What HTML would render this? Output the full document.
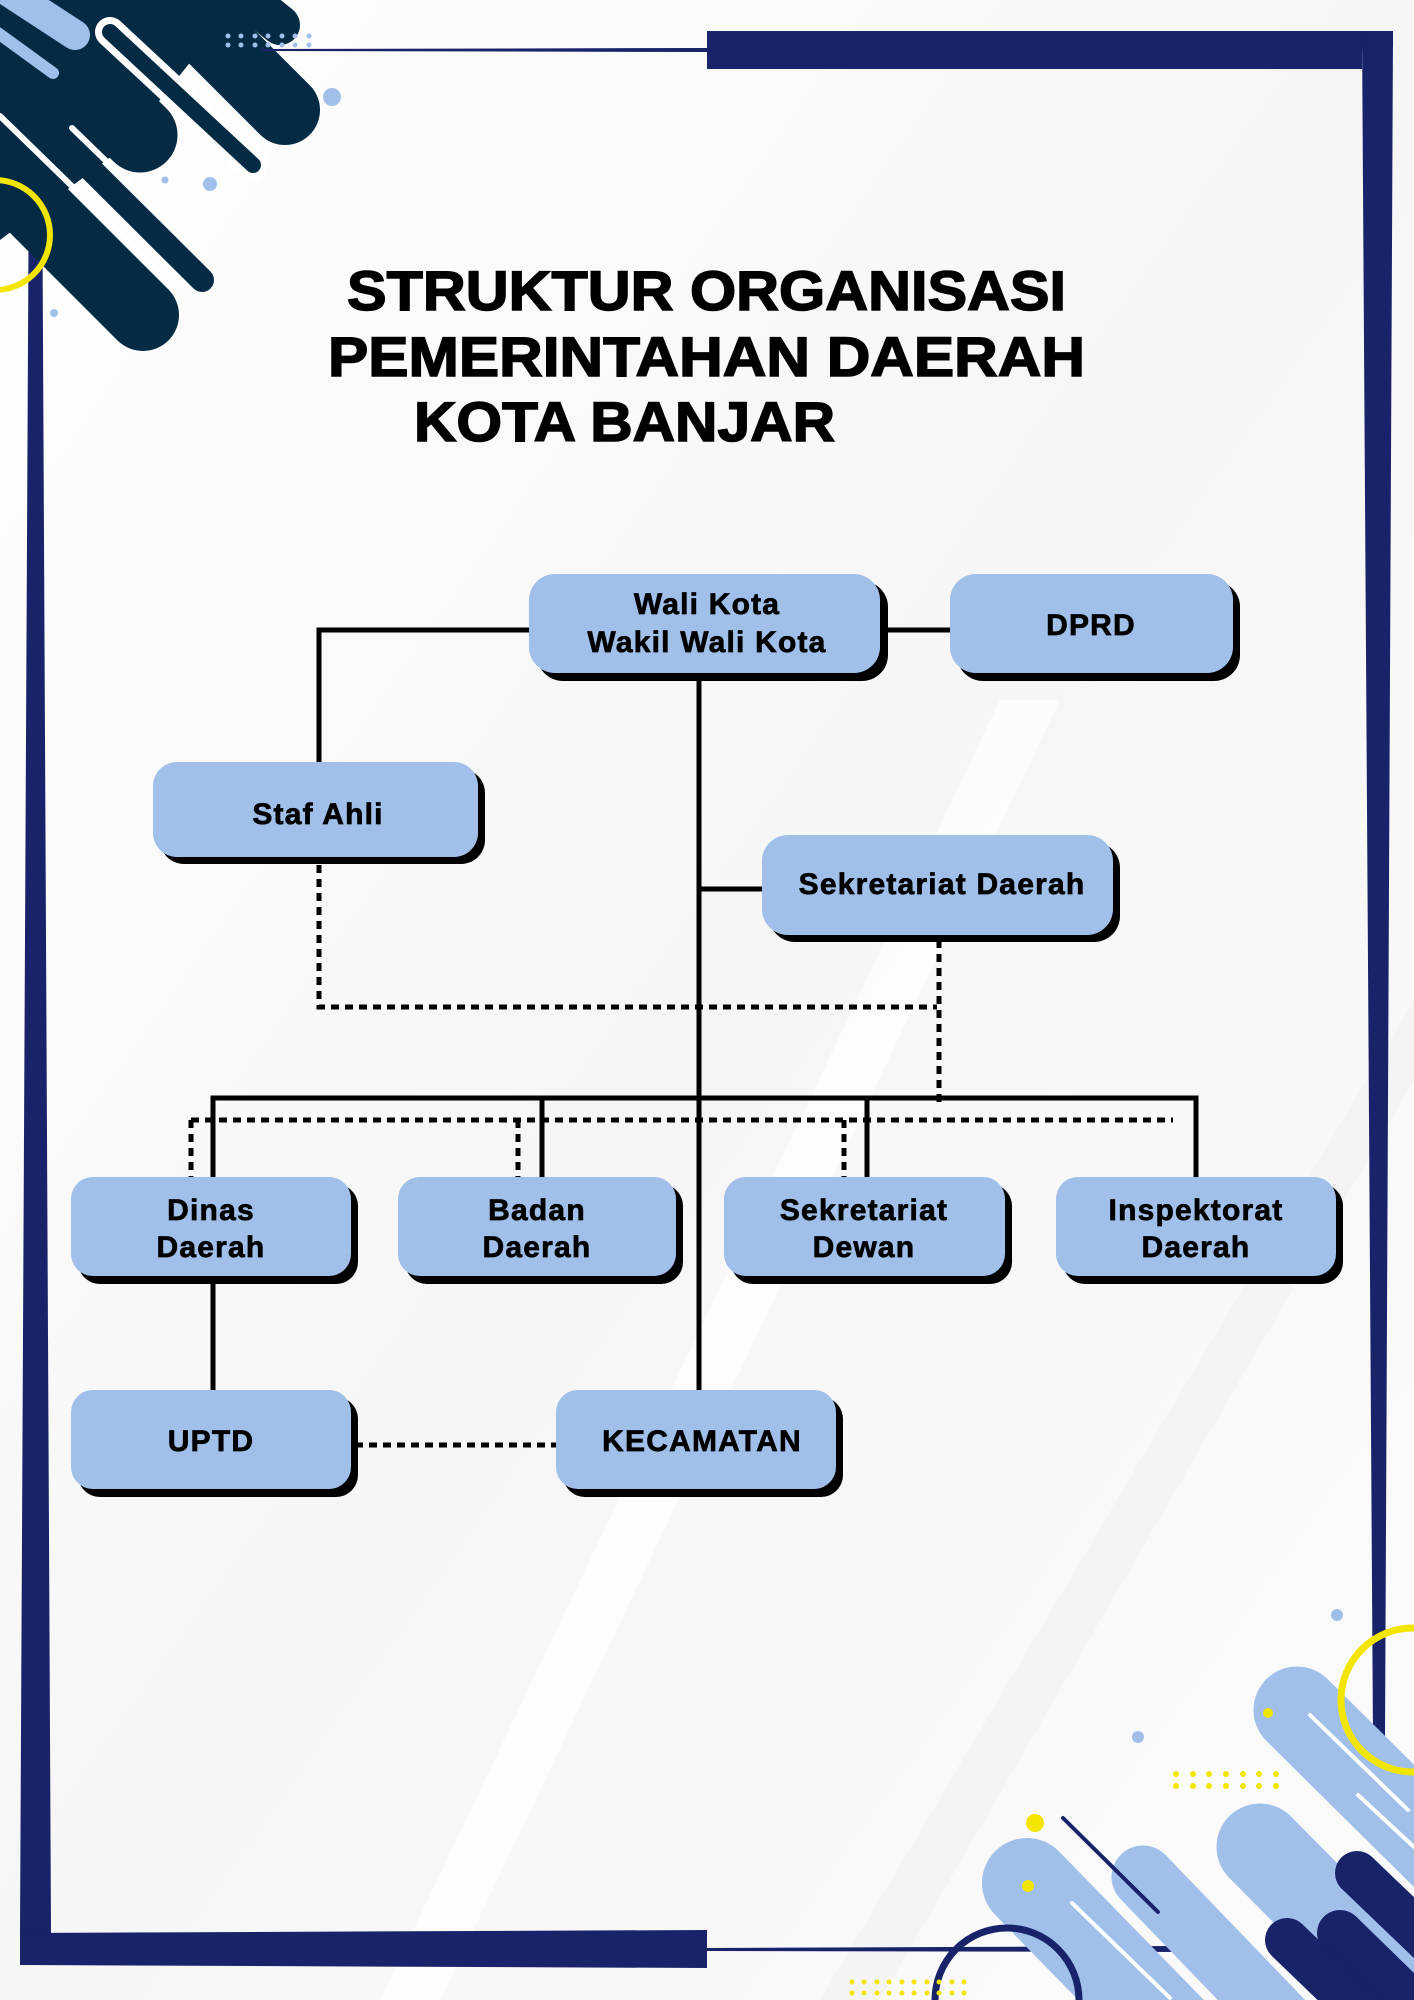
<!DOCTYPE html>
<html><head><meta charset="utf-8"><style>
html,body{margin:0;padding:0;width:1414px;height:2000px;overflow:hidden;background:#fafafa}
svg{display:block}
text{font-family:"Liberation Sans",sans-serif;font-weight:bold;fill:#000}
</style></head><body>
<svg width="1414" height="2000" viewBox="0 0 1414 2000" xmlns="http://www.w3.org/2000/svg">
<defs>
<linearGradient id="bg" x1="0" y1="0" x2="1" y2="1">
<stop offset="0" stop-color="#ffffff"/><stop offset="0.5" stop-color="#f6f6f6"/><stop offset="1" stop-color="#fbfbfb"/>
</linearGradient>
</defs>
<rect width="1414" height="2000" fill="url(#bg)"/>
<polygon points="380,2000 1000,700 1060,700 440,2000" fill="#ffffff" opacity="0.7"/>
<polygon points="820,2000 1414,1000 1414,1080 880,2000" fill="#f0f0f0" opacity="0.6"/>

<polygon points="29,143 42,143 51,1933 20,1933" fill="#18236a"/>

<polygon points="0,0 240,0 120,150 0,240" fill="#052b44"/>
<g stroke-linecap="round" fill="none">
<line x1="-260" y1="-260" x2="140" y2="135" stroke="#052b44" stroke-width="75"/>
<line x1="-115" y1="-290" x2="285" y2="110" stroke="#052b44" stroke-width="70"/>
<line x1="-40" y1="-230" x2="280" y2="25" stroke="#052b44" stroke-width="40"/>
<line x1="-257" y1="-85" x2="143" y2="315" stroke="#052b44" stroke-width="72"/>
<line x1="-200" y1="-120" x2="202" y2="280" stroke="#052b44" stroke-width="24"/>
<line x1="110" y1="32" x2="253" y2="165" stroke="#ffffff" stroke-width="30"/>
<line x1="110" y1="32" x2="253" y2="165" stroke="#052b44" stroke-width="16"/>
<line x1="0" y1="116" x2="160" y2="272" stroke="#ffffff" stroke-width="6"/>
<line x1="72" y1="128" x2="204" y2="256" stroke="#ffffff" stroke-width="6" stroke-linecap="round"/>
<line x1="-40" y1="-40" x2="75" y2="35" stroke="#a0c0ea" stroke-width="30"/>
<line x1="-20" y1="20" x2="53" y2="73" stroke="#a0c0ea" stroke-width="12"/>
<line x1="30" y1="8" x2="40" y2="20" stroke="#a0c0ea" stroke-width="12"/>
</g>
<circle cx="-5" cy="235" r="55" fill="none" stroke="#f2e600" stroke-width="6"/>
<circle cx="332" cy="97" r="9" fill="#a0c0ea"/>
<circle cx="210" cy="184" r="7" fill="#a0c0ea"/>
<circle cx="165" cy="180" r="3.5" fill="#a0c0ea"/>
<circle cx="54" cy="313" r="4" fill="#a0c0ea"/>
<g fill="#a0c0ea">
<circle cx="228" cy="36" r="2.5"/><circle cx="241" cy="36" r="2.5"/><circle cx="255" cy="36" r="2.5"/><circle cx="268" cy="36" r="2.5"/><circle cx="282" cy="36" r="2.5"/><circle cx="295" cy="36" r="2.5"/><circle cx="309" cy="36" r="2.5"/>
<circle cx="228" cy="45" r="2.5"/><circle cx="241" cy="45" r="2.5"/><circle cx="255" cy="45" r="2.5"/><circle cx="268" cy="45" r="2.5"/><circle cx="282" cy="45" r="2.5"/><circle cx="295" cy="45" r="2.5"/><circle cx="309" cy="45" r="2.5"/>
</g>

<polygon points="707,31 1393,31 1393,47 1362,49 1362,69 707,69" fill="#18236a"/>
<polygon points="1362,31 1393,31 1385,1740 1373,1740" fill="#18236a"/>
<polygon points="261,49 707,48 707,52 261,51" fill="#18236a"/>
<polygon points="20,1933 707,1930 707,1968 20,1965" fill="#18236a"/>
<polygon points="707,1948 1180,1946 1180,1952 707,1951" fill="#18236a"/>

<g stroke-linecap="round" fill="none">
<line x1="1297" y1="1710" x2="1600" y2="2010" stroke="#a0c0ea" stroke-width="87"/>
<line x1="1260" y1="1847" x2="1500" y2="2090" stroke="#a0c0ea" stroke-width="87"/>
<line x1="1143" y1="1877" x2="1300" y2="2040" stroke="#a0c0ea" stroke-width="63"/>
<line x1="1027" y1="1883" x2="1180" y2="2040" stroke="#a0c0ea" stroke-width="90"/>
<line x1="1357" y1="1873" x2="1500" y2="2010" stroke="#18236a" stroke-width="44"/>
<line x1="1340" y1="1933" x2="1460" y2="2050" stroke="#18236a" stroke-width="46"/>
<line x1="1287" y1="1940" x2="1370" y2="2020" stroke="#18236a" stroke-width="44"/>
<line x1="1063" y1="1818" x2="1158" y2="1912" stroke="#18236a" stroke-width="4"/>
<line x1="1310" y1="1715" x2="1408" y2="1810" stroke="#ffffff" stroke-width="4"/>
<line x1="1358" y1="1795" x2="1414" y2="1847" stroke="#ffffff" stroke-width="4"/>
<line x1="1072" y1="1903" x2="1170" y2="1998" stroke="#ffffff" stroke-width="4"/>
</g>
<circle cx="1413" cy="1700" r="72" fill="none" stroke="#f2e600" stroke-width="7"/>
<circle cx="1007" cy="2000" r="72" fill="none" stroke="#18236a" stroke-width="7"/>
<circle cx="1035" cy="1823" r="9" fill="#f2e600"/>
<circle cx="1028" cy="1886" r="6" fill="#f2e600"/>
<circle cx="1268" cy="1713" r="5" fill="#f2e600"/>
<circle cx="1337" cy="1615" r="6" fill="#a0c0ea"/>
<circle cx="1138" cy="1737" r="6" fill="#a0c0ea"/>
<g fill="#f2e600">
<circle cx="1176" cy="1774" r="3"/><circle cx="1193" cy="1774" r="3"/><circle cx="1209" cy="1774" r="3"/><circle cx="1226" cy="1774" r="3"/><circle cx="1243" cy="1774" r="3"/><circle cx="1259" cy="1774" r="3"/><circle cx="1276" cy="1774" r="3"/>
<circle cx="1176" cy="1786" r="3"/><circle cx="1193" cy="1786" r="3"/><circle cx="1209" cy="1786" r="3"/><circle cx="1226" cy="1786" r="3"/><circle cx="1243" cy="1786" r="3"/><circle cx="1259" cy="1786" r="3"/><circle cx="1276" cy="1786" r="3"/>
<circle cx="852" cy="1982" r="2.5"/><circle cx="864" cy="1982" r="2.5"/><circle cx="877" cy="1982" r="2.5"/><circle cx="889" cy="1982" r="2.5"/><circle cx="902" cy="1982" r="2.5"/><circle cx="914" cy="1982" r="2.5"/><circle cx="927" cy="1982" r="2.5"/><circle cx="939" cy="1982" r="2.5"/><circle cx="952" cy="1982" r="2.5"/><circle cx="964" cy="1982" r="2.5"/>
<circle cx="852" cy="1993" r="2.5"/><circle cx="864" cy="1993" r="2.5"/><circle cx="877" cy="1993" r="2.5"/><circle cx="889" cy="1993" r="2.5"/><circle cx="902" cy="1993" r="2.5"/><circle cx="914" cy="1993" r="2.5"/><circle cx="927" cy="1993" r="2.5"/><circle cx="939" cy="1993" r="2.5"/><circle cx="952" cy="1993" r="2.5"/><circle cx="964" cy="1993" r="2.5"/>
</g>

<g stroke="#000" stroke-width="1.5">
<text x="347" y="310" font-size="56" textLength="719" lengthAdjust="spacingAndGlyphs">STRUKTUR ORGANISASI</text>
<text x="328" y="376" font-size="56" textLength="757" lengthAdjust="spacingAndGlyphs">PEMERINTAHAN DAERAH</text>
<text x="414" y="441" font-size="56" textLength="421" lengthAdjust="spacingAndGlyphs">KOTA BANJAR</text>
</g>

<g stroke="#000" stroke-width="5" fill="none">
<polyline points="540,630 319,630 319,770"/>
<line x1="870" y1="630" x2="960" y2="630"/>
<line x1="699" y1="670" x2="699" y2="1395"/>
<line x1="699" y1="889" x2="770" y2="889"/>
<polyline points="213,1185 213,1098 1196,1098 1196,1185"/>
<line x1="542" y1="1098" x2="542" y2="1185"/>
<line x1="867" y1="1098" x2="867" y2="1185"/>
<line x1="213" y1="1270" x2="213" y2="1395"/>
</g>
<g stroke="#000" stroke-width="5" fill="none" stroke-dasharray="8 6">
<polyline points="319,865 319,1007 937,1007"/>
<line x1="939" y1="940" x2="939" y2="1106"/>
<line x1="191" y1="1120" x2="1173" y2="1120"/>
<line x1="191" y1="1120" x2="191" y2="1180"/>
<line x1="518" y1="1120" x2="518" y2="1180"/>
<line x1="844" y1="1120" x2="844" y2="1180"/>
<line x1="355" y1="1445" x2="556" y2="1445"/>
</g>

<g>
<rect x="537" y="581" width="351" height="100" rx="26" fill="#000"/>
<rect x="529" y="574" width="351" height="99" rx="26" fill="#a0c0ea"/>
<rect x="957" y="581" width="283" height="100" rx="26" fill="#000"/>
<rect x="950" y="574" width="283" height="99" rx="26" fill="#a0c0ea"/>
<rect x="160" y="769" width="325" height="95" rx="24" fill="#000"/>
<rect x="153" y="762" width="325" height="95" rx="24" fill="#a0c0ea"/>
<rect x="769" y="842" width="351" height="100" rx="26" fill="#000"/>
<rect x="762" y="835" width="351" height="100" rx="26" fill="#a0c0ea"/>
<rect x="78" y="1184" width="280" height="100" rx="22" fill="#000"/>
<rect x="71" y="1177" width="280" height="99" rx="22" fill="#a0c0ea"/>
<rect x="405" y="1184" width="278" height="100" rx="22" fill="#000"/>
<rect x="398" y="1177" width="278" height="99" rx="22" fill="#a0c0ea"/>
<rect x="731" y="1184" width="281" height="100" rx="22" fill="#000"/>
<rect x="724" y="1177" width="281" height="99" rx="22" fill="#a0c0ea"/>
<rect x="1063" y="1184" width="280" height="100" rx="22" fill="#000"/>
<rect x="1056" y="1177" width="280" height="99" rx="22" fill="#a0c0ea"/>
<rect x="78" y="1397" width="280" height="100" rx="22" fill="#000"/>
<rect x="71" y="1390" width="280" height="99" rx="22" fill="#a0c0ea"/>
<rect x="563" y="1397" width="280" height="100" rx="22" fill="#000"/>
<rect x="556" y="1390" width="280" height="99" rx="22" fill="#a0c0ea"/>
</g>
<g font-size="30" text-anchor="middle" stroke="#000" stroke-width="0.7" letter-spacing="1.2">
<text x="707" y="614">Wali Kota</text>
<text x="707" y="652">Wakil Wali Kota</text>
<text x="1091" y="635">DPRD</text>
<text x="318" y="824">Staf Ahli</text>
<text x="942" y="894">Sekretariat Daerah</text>
<text x="211" y="1220">Dinas</text>
<text x="211" y="1257">Daerah</text>
<text x="537" y="1220">Badan</text>
<text x="537" y="1257">Daerah</text>
<text x="864" y="1220">Sekretariat</text>
<text x="864" y="1257">Dewan</text>
<text x="1196" y="1220">Inspektorat</text>
<text x="1196" y="1257">Daerah</text>
<text x="211" y="1451">UPTD</text>
<text x="702" y="1451">KECAMATAN</text>
</g>
</svg>
</body></html>
